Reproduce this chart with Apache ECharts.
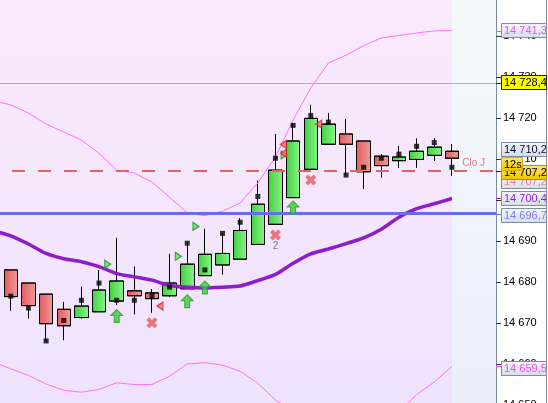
<!DOCTYPE html>
<html><head><meta charset="utf-8">
<script src="https://cdn.jsdelivr.net/npm/echarts@6/dist/echarts.min.js"></script>
<style>html,body{margin:0;padding:0;background:#fff;overflow:hidden}#c{width:548px;height:403px}</style>
</head><body><div id="c"></div>
<script>
// ---- data ----
const categories = ['p','1','2','3','4','5','6','7','8','9','10','11','12','13','14','15','16','17','18','19','20','21','22','23','24','25','26','f1','f2'];
const open  = [14683.0,14679.8,14677.1,14673.4,14671.4,14672.8,14675.4,14677.9,14677.4,14676.7,14678.4,14681.6,14684.2,14685.6,14689.2,14694.1,14700.6,14707.5,14713.6,14716.1,14714.4,14710.7,14709.6,14709.9,14710.9,14711.9];
const close = [14676.5,14674.3,14669.9,14669.4,14674.2,14678.1,14680.3,14676.7,14676.0,14679.8,14684.4,14686.8,14687.0,14692.6,14699.0,14707.3,14714.4,14719.9,14718.5,14713.6,14706.9,14708.4,14710.5,14711.9,14712.9,14710.2];
const high  = [14683.0,14679.8,14677.1,14675.2,14678.9,14682.9,14690.8,14683.8,14678.3,14686.9,14689.5,14693.0,14691.9,14695.6,14704.7,14716.1,14718.7,14723.2,14721.2,14719.7,14714.4,14711.2,14713.2,14715.0,14715.0,14713.6];
const low   = [14673.1,14671.2,14665.7,14665.9,14671.2,14672.8,14674.5,14672.2,14672.6,14676.5,14678.4,14681.6,14681.9,14685.6,14689.2,14694.1,14700.6,14707.5,14713.6,14706.1,14702.7,14705.5,14707.9,14707.9,14709.6,14706.0];
const squares = [14676.6,14673.7,14665.7,14670.7,14675.6,14679.8,14675.6,14675.6,14676.7,14678.8,14689.5,14683.0,14691.9,14694.6,14700.9,14710.2,14718.2,14720.6,14719.0,14706.1,14708.0,14710.2,14711.2,14713.1,14714.0,14708.0];
// indicator values, first value belongs to the bar before the visible window
const movingAvg = [14692.5,14691.3,14689.3,14687.0,14685.7,14685.0,14683.8,14682.1,14681.3,14680.5,14679.2,14678.8,14678.6,14678.8,14679.1,14680.4,14681.9,14684.6,14686.9,14688.1,14689.4,14690.8,14692.9,14695.8,14697.9,14699.1,14700.4];
const bandUpper = [14724.2,14723.2,14721.2,14718.5,14716.6,14714.6,14711.4,14707.3,14706.6,14704.4,14700.7,14696.9,14696.2,14697.3,14699.3,14704.2,14710.5,14719.5,14727.3,14733.4,14735.3,14737.6,14739.5,14740.1,14740.7,14741.2,14741.3];
const bandLower = [14660.6,14658.9,14657.3,14655.2,14653.7,14653.2,14653.9,14655.5,14655.1,14655.1,14657.1,14660.1,14660.4,14659.8,14658.3,14655.4,14651.3,14648.8,14643.0,14640.0,14638.3,14639.0,14642.0,14648.6,14652.6,14655.7,14659.5];
// signals: [bar number, price]
const upArrows   = [[7,14671.8],[11,14675.4],[12,14678.7],[17,14698.2]];
const crosses    = [[9,14670.1],[16,14691.5,'2'],[18,14704.9]];
const greenFlags = [[7,14684.4],[11,14686.3],[12,14693.6],[17,14711.0]];
const redFlags   = [[9,14674.2],[16,14713.6],[16,14711.4],[18,14718.5]];
// levels
const prevHigh = 14728.4, pivotLine = 14696.7, prevClose = 14707.2;
const yTicks = {min:14650, max:14750, step:10};
const tagValues = [14741.3, 14728.4, 14710.2, 14707.2, 14707.2, 14700.4, 14696.7, 14659.5];
const timerText = '12s';

// ---- build ----
const fmtAxis = v => Math.floor(v/1000) + ' ' + String(Math.round(v%1000)).padStart(3,'0');
const fmtTag = v => { const s = v.toFixed(1); const [i,d] = s.split('.'); return i.slice(0,i.length-3)+' '+i.slice(-3)+','+d; };
const pad = (arr, before, total) => { const out = new Array(total).fill('-'); arr.forEach((v,k)=>out[k+before]=v); return out; };
const N = categories.length;
const candleData = pad(open.map((o,k)=>[o, close[k], low[k], high[k]]), 1, N);
const sqData = squares.map((v,k)=>[k+1, v]);

const greenGrad = {type:'linear',x:0,y:0,x2:1,y2:0,colorStops:[{offset:0,color:'#40d040'},{offset:1,color:'#8af48a'}]};
const redGrad   = {type:'linear',x:0,y:0,x2:1,y2:0,colorStops:[{offset:0,color:'#e05c5c'},{offset:1,color:'#f29a9a'}]};
const FONT = '"Liberation Sans", Arial, sans-serif';

const arrowPath = 'path://M6,0 L12,6 L8.5,6 L8.5,13 L3.5,13 L3.5,6 L0,6 Z';
const crossPath = 'path://M0,3 L3,0 L6,3 L9,0 L12,3 L9,6 L12,9 L9,12 L6,9 L3,12 L0,9 L3,6 Z';
const triRight = 'path://M0,0 L8,5 L0,10 Z';
const triLeft  = 'path://M8,0 L0,5 L8,10 Z';

const chart = echarts.init(document.getElementById('c'), null, {renderer:'canvas'});
chart.setOption({
  animation:false,
  backgroundColor:'#ffffff',
  grid:{left:-15.64, right:52, top:-5.2, bottom:-2.4, containLabel:false, outerBoundsMode:'none'},
  xAxis:{type:'category', data:categories, boundaryGap:true, show:false},
  yAxis:{type:'value', position:'right', min:yTicks.min, max:yTicks.max, interval:yTicks.step, scale:true,
    axisLine:{show:true, lineStyle:{color:'#7b8c98', width:1}},
    axisTick:{show:true, inside:false, length:5, lineStyle:{color:'#333'}},
    splitLine:{show:false},
    axisLabel:{formatter:fmtAxis, color:'#000', fontSize:11, fontFamily:FONT, margin:7, showMaxLabel:false, showMinLabel:true}
  },
  series:[
    {type:'candlestick', data:candleData, barWidth:14, z:3,
     itemStyle:{color:greenGrad, color0:redGrad, borderColor:'#000', borderColor0:'#000', borderWidth:1},
     markLine:{symbol:'none', silent:true, z:6, precision:1,
       data:[
         {yAxis:prevHigh, lineStyle:{color:'#f0949c', width:1, type:'solid'}, label:{show:false}},
         {yAxis:pivotLine, lineStyle:{color:'#6b6bf2', width:3, type:'solid'}, label:{show:false}},
         {yAxis:prevClose, lineStyle:{color:'#e46464', width:2, type:[13,13], dashOffset:24.36},
          label:{show:true, formatter:'Clo J', position:'insideEndTop', distance:[11,2], color:'#e87a7a', fontSize:10, fontFamily:FONT}}
       ]}
    },
    {type:'line', data:bandUpper, symbol:'none', z:4, lineStyle:{color:'#ff70f8', width:1}},
    {type:'line', data:bandLower, symbol:'none', z:4, lineStyle:{color:'#ff70f8', width:1}},
    {type:'line', data:movingAvg, symbol:'none', smooth:0.25, z:5, lineStyle:{color:'#8e1ccc', width:3.5}},
    {type:'scatter', data:sqData, symbol:'rect', symbolSize:5, z:7, itemStyle:{color:'#000'}},
    {type:'scatter', data:upArrows, symbol:arrowPath, symbolSize:[12,13], z:7, itemStyle:{color:'#3cc83c', borderColor:'#1f9f1f', borderWidth:1}},
    {type:'scatter', data:crosses.map(c=>({value:[c[0],c[1]], label:{show:!!c[2], formatter:c[2]||'', position:'bottom', distance:1, color:'#555a70', fontSize:10, fontFamily:FONT}})),
     symbol:crossPath, symbolSize:11, z:7, itemStyle:{color:'#e65858'}},
    {type:'scatter', data:greenFlags, symbol:triRight, symbolSize:[6,8], symbolOffset:[-9,0], z:7, itemStyle:{color:'#6fd66f', borderColor:'#189818', borderWidth:1.2}},
    {type:'scatter', data:redFlags, symbol:triLeft, symbolSize:[6,8], symbolOffset:[8,0], z:7, itemStyle:{color:'#ee6a6a', borderColor:'#d02c2c', borderWidth:1.2}}
  ]
});

// ---- decorations & price tags placed with the chart's own scales ----
const yPx = v => chart.convertToPixel({yAxisIndex:0}, v);
const xPx = i => chart.convertToPixel({xAxisIndex:0}, i);
const plotRight = 496, W = 548, H = 403;
const futureX = xPx(open.length);
const lightBox = {type:'linear',x:0,y:0,x2:0,y2:1,colorStops:[{offset:0,color:'#f5f7fc'},{offset:1,color:'#d5ddea'}]};
const goldBox  = {type:'linear',x:0,y:0,x2:0,y2:1,colorStops:[{offset:0,color:'#ffe866'},{offset:1,color:'#f2c200'}]};
const tagStyle = [
  {fg:'#f04ef0', bg:lightBox, bd:'#7d8f9e', shift:-0.5, stub:'#f04ef0'},
  {fg:'#000000', bg:'#ffff00', bd:'#222222', shift:-1, stub:'#222'},
  {fg:'#0a0a30', bg:lightBox, bd:'#7d8f9e', shift:-9, stub:null},
  {fg:'#f08080', bg:lightBox, bd:'#7d8f9e', shift:10, stub:null},
  {fg:'#000000', bg:goldBox, bd:'#b89000', shift:1, stub:'#222'},
  {fg:'#9a1fd0', bg:lightBox, bd:'#7d8f9e', shift:0, stub:'#9a1fd0'},
  {fg:'#7c7cf4', bg:lightBox, bd:'#7d8f9e', shift:1, stub:'#6b6bf2'},
  {fg:'#f04ef0', bg:lightBox, bd:'#7d8f9e', shift:2, stub:'#f04ef0'}
];
const g = [];
g.push({type:'rect', z:-20, silent:true, shape:{x:0,y:0,width:plotRight,height:H},
  style:{fill:{type:'linear',x:0,y:0,x2:0,y2:1,colorStops:[{offset:0,color:'#faeafd'},{offset:1,color:'#efe2fc'}]}}});
g.push({type:'rect', z:-19, silent:true, shape:{x:futureX,y:0,width:plotRight-futureX,height:H},
  style:{fill:{type:'linear',x:0,y:0,x2:0,y2:1,colorStops:[{offset:0,color:'#f7f8fd'},{offset:1,color:'#eaeffb'}]}}});
g.push({type:'line', z:50, silent:true, shape:{x1:W-1.5,y1:0,x2:W-1.5,y2:H}, style:{stroke:'#7d8f9e', lineWidth:1}});
const boxX = 501.5, boxW = 45, boxH = 14;
tagValues.forEach((v,k)=>{
  const s = tagStyle[k];
  const yv = Math.round(yPx(v)) + 0.5;
  const cy = Math.round(yPx(v) + s.shift);
  if (s.stub) g.push({type:'line', z:60+k*3, silent:true, shape:{x1:plotRight,y1:yv,x2:boxX,y2:yv}, style:{stroke:s.stub, lineWidth:1}});
  g.push({type:'rect', z:60+k*3+1, silent:true, shape:{x:boxX, y:cy-boxH/2+0.5, width:boxW, height:boxH}, style:{fill:s.bg, stroke:s.bd, lineWidth:1}});
  g.push({type:'text', z:60+k*3+2, silent:true, style:{text:fmtTag(v), x:boxX+2.5, y:cy+1, fill:s.fg, font:'11px '+FONT, align:'left', verticalAlign:'middle', textAlign:'left', textVerticalAlign:'middle'}});
});
// timer badge over the close tag
const ty = Math.round(yPx(prevClose) - 7);
g.push({type:'rect', z:200, silent:true, shape:{x:boxX, y:ty-6.5, width:21, height:13}, style:{fill:goldBox, stroke:'#d9b000', lineWidth:1}});
g.push({type:'text', z:201, silent:true, style:{text:timerText, x:boxX+2.5, y:ty+1, fill:'#000', font:'11px '+FONT, align:'left', verticalAlign:'middle', textAlign:'left', textVerticalAlign:'middle'}});
chart.setOption({graphic:g});
</script>
</body></html>
